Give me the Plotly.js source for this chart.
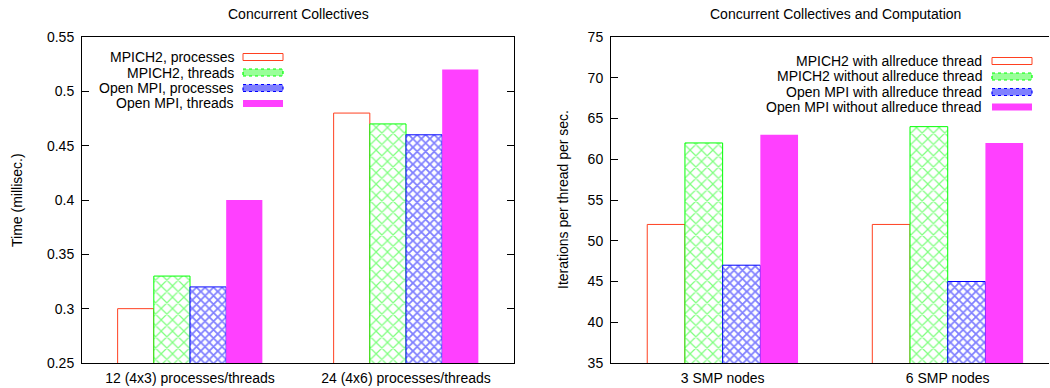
<!DOCTYPE html>
<html>
<head>
<meta charset="utf-8">
<script src="https://cdn.plot.ly/plotly-3.0.1.min.js"></script>
<style>html,body{margin:0;padding:0;background:#fff;}#chart{width:1050px;height:388px;}</style>
</head>
<body>
<div id="chart"></div>
<script>
// ---- data ----
const categoriesLeft = ['12 (4x3) processes/threads', '24 (4x6) processes/threads'];
const namesLeft = ['MPICH2, processes', 'MPICH2, threads', 'Open MPI, processes', 'Open MPI, threads'];
const mpich2Processes = [0.30, 0.48];
const mpich2Threads = [0.33, 0.47];
const openmpiProcesses = [0.32, 0.46];
const openmpiThreads = [0.40, 0.52];

const categoriesRight = ['3 SMP nodes', '6 SMP nodes'];
const namesRight = ['MPICH2 with allreduce thread', 'MPICH2 without allreduce thread', 'Open MPI with allreduce thread', 'Open MPI without allreduce thread'];
const mpich2With = [52, 52];
const mpich2Without = [62, 64];
const openmpiWith = [47, 45];
const openmpiWithout = [63, 62];

const titleLeft = 'Concurrent Collectives';
const titleRight = 'Concurrent Collectives and Computation';
const yTitleLeft = 'Time (millisec.)';
const yTitleRight = 'Iterations per thread per sec.';

// ---- styles ----
const FONT = 'Liberation Sans, Arial, Helvetica, sans-serif';
const RED = '#ff4020', GREEN = '#00ff00', BLUE = '#0000ff', MAG = '#ff40ff';
const styles = [
  {marker: {color: 'rgba(255,255,255,0)', line: {color: RED, width: 1}}},
  {marker: {color: 'white', line: {color: GREEN, width: 1},
    pattern: {shape: 'x', fgcolor: GREEN, bgcolor: 'white', size: 8, solidity: 0.28, fillmode: 'overlay'}}},
  {marker: {color: 'white', line: {color: BLUE, width: 1},
    pattern: {shape: 'x', fgcolor: BLUE, bgcolor: 'white', size: 6, solidity: 0.5, fillmode: 'overlay'}}},
  {marker: {color: MAG, line: {color: MAG, width: 0}}}
];

function mk(x, y, name, i, xa, ya) {
  return Object.assign({type: 'bar', x: x, y: y, name: name, xaxis: xa, yaxis: ya,
    showlegend: false, hoverinfo: 'none'}, JSON.parse(JSON.stringify(styles[i])));
}
const leftVals = [mpich2Processes, mpich2Threads, openmpiProcesses, openmpiThreads];
const rightVals = [mpich2With, mpich2Without, openmpiWith, openmpiWithout];
const traces = [];
leftVals.forEach((v, i) => traces.push(mk(categoriesLeft, v, namesLeft[i], i, 'x', 'y')));
rightVals.forEach((v, i) => traces.push(mk(categoriesRight, v, namesRight[i], i, 'x2', 'y2')));

const W = 1050, H = 388;
const px = x => x / W, py = y => 1 - y / H;

const axisCommon = {showline: true, linecolor: 'black', linewidth: 1, showgrid: false, zeroline: false,
  tickfont: {family: FONT, size: 14, color: 'black'}, fixedrange: true};

// legend (gnuplot style: text right-aligned, sample on the right)
const annotations = [];
const shapes = [];
function legend(names, textRight, sx0, sx1, rows) {
  names.forEach((n, i) => {
    annotations.push({text: n, xref: 'paper', yref: 'paper', x: px(textRight), y: py(rows[i]),
      xanchor: 'right', yanchor: 'middle', showarrow: false, font: {family: FONT, size: 14, color: 'black'}});
    const s = {type: 'rect', xref: 'paper', yref: 'paper', x0: px(sx0), x1: px(sx1),
      y0: py(rows[i] + 3.5), y1: py(rows[i] - 3.5)};
    if (i === 0) { s.line = {color: RED, width: 1}; s.fillcolor = 'rgba(0,0,0,0)'; }
    if (i === 1) { s.line = {color: GREEN, width: 1.2, dash: 'dot'}; s.fillcolor = 'rgba(0,255,0,0.4)'; }
    if (i === 2) { s.line = {color: BLUE, width: 1.2, dash: 'dot'}; s.fillcolor = 'rgba(0,0,255,0.5)'; }
    if (i === 3) { s.line = {color: MAG, width: 0}; s.fillcolor = MAG; }
    shapes.push(s);
  });
}
legend(namesLeft, 236, 243, 283, [57, 72.5, 88, 103.5]);
legend(namesRight, 984, 992, 1032, [61, 76.5, 92, 107]);

// titles
annotations.push({text: titleLeft, xref: 'paper', yref: 'paper', x: px(298), y: py(14.5), xanchor: 'center', yanchor: 'middle',
  showarrow: false, font: {family: FONT, size: 14, color: 'black'}});
annotations.push({text: titleRight, xref: 'paper', yref: 'paper', x: px(835), y: py(14.5), xanchor: 'center', yanchor: 'middle',
  showarrow: false, font: {family: FONT, size: 14, color: 'black'}});
annotations.push({text: yTitleLeft, xref: 'paper', yref: 'paper', x: px(17), y: py(200), xanchor: 'center', yanchor: 'middle',
  textangle: -90, showarrow: false, font: {family: FONT, size: 14, color: 'black'}});
annotations.push({text: yTitleRight, xref: 'paper', yref: 'paper', x: px(563), y: py(200), xanchor: 'center', yanchor: 'middle',
  textangle: -90, showarrow: false, font: {family: FONT, size: 14, color: 'black'}});

const yDom = [1 - 363 / H, 1 - 37 / H];
const layout = {
  width: W, height: H, margin: {l: 0, r: 0, t: 0, b: 0}, paper_bgcolor: 'white', plot_bgcolor: 'white',
  showlegend: false, barmode: 'group', bargap: 0.33, bargroupgap: 0,
  xaxis: Object.assign({}, axisCommon, {domain: [px(82), px(514)], range: [-0.5, 1.5], mirror: true, ticks: '',
    type: 'category', anchor: 'y', ticklabelstandoff: 2}),
  yaxis: Object.assign({}, axisCommon, {domain: yDom, range: [0.25, 0.55], dtick: 0.05, tick0: 0.25, ticks: 'inside',
    ticklen: 7, tickcolor: 'black', mirror: 'allticks', anchor: 'x', ticklabelstandoff: 4}),
  xaxis2: Object.assign({}, axisCommon, {domain: [px(611), px(1049)], range: [-0.496, 1.45], mirror: true, ticks: '',
    type: 'category', anchor: 'y2', ticklabelstandoff: 2}),
  yaxis2: Object.assign({}, axisCommon, {domain: yDom, range: [35, 75], dtick: 5, tick0: 35, ticks: 'inside',
    ticklen: 7, tickcolor: 'black', mirror: false, anchor: 'x2', ticklabelstandoff: 4}),
  annotations: annotations, shapes: shapes
};
Plotly.newPlot('chart', traces, layout, {displayModeBar: false, staticPlot: true});
</script>
</body>
</html>
